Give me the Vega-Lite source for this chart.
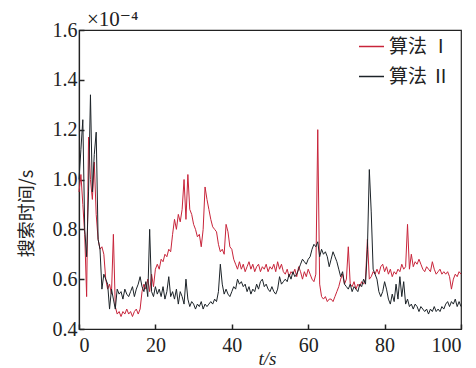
{
  "$schema": "https://vega.github.io/schema/vega-lite/v6.json",
  "width": 382,
  "height": 299,
  "autosize": {"type": "none"},
  "padding": {"left": 79, "top": 30, "right": 15, "bottom": 39},
  "background": "white",
  "config": {
    "view": {"stroke": "#222", "strokeWidth": 1.2},
    "axis": {"grid": false, "domainColor": "#222", "domainWidth": 1.2, "tickColor": "#222", "tickWidth": 1.5, "tickSize": -5, "labelFont": "Times New Roman, Liberation Serif, DejaVu Serif, serif", "labelFontSize": 20, "labelColor": "#222", "titleColor": "#222"}
  },
  "title": {"text": "×10⁻⁴", "anchor": "start", "frame": "group", "font": "Times New Roman, Liberation Serif, DejaVu Serif, serif", "fontSize": 21, "fontWeight": "normal", "color": "#222", "offset": 5, "baseline": "alphabetic", "dx": 8, "dy": 32},
  "data": {"values": [
    {"t":0,"a":0.95,"b":1.00},{"t":0.5,"a":1.02,"b":1.12},{"t":1,"a":0.90,"b":1.24},{"t":1.5,"a":0.78,"b":0.80},{"t":2,"a":0.53,"b":0.69},{"t":2.5,"a":1.17,"b":0.95},{"t":3,"a":1.00,"b":1.34},{"t":3.5,"a":0.92,"b":0.95},{"t":4,"a":1.07,"b":1.10},{"t":4.5,"a":0.86,"b":1.19},
    {"t":5,"a":0.76,"b":0.76},{"t":5.5,"a":0.72,"b":0.72},{"t":6,"a":0.73,"b":0.56},{"t":6.5,"a":0.70,"b":0.62},{"t":7,"a":0.60,"b":0.60},{"t":7.5,"a":0.56,"b":0.58},{"t":8,"a":0.58,"b":0.48},{"t":8.5,"a":0.54,"b":0.56},{"t":9,"a":0.78,"b":0.52},{"t":9.5,"a":0.49,"b":0.48},
    {"t":10,"a":0.46,"b":0.56},{"t":10.5,"a":0.47,"b":0.54},{"t":11,"a":0.45,"b":0.55},{"t":11.5,"a":0.47,"b":0.52},{"t":12,"a":0.46,"b":0.56},{"t":12.5,"a":0.48,"b":0.54},{"t":13,"a":0.46,"b":0.53},{"t":13.5,"a":0.47,"b":0.55},{"t":14,"a":0.45,"b":0.57},{"t":14.5,"a":0.47,"b":0.53},
    {"t":15,"a":0.48,"b":0.56},{"t":15.5,"a":0.46,"b":0.58},{"t":16,"a":0.48,"b":0.61},{"t":16.5,"a":0.55,"b":0.57},{"t":17,"a":0.58,"b":0.55},{"t":17.5,"a":0.56,"b":0.59},{"t":18,"a":0.60,"b":0.53},{"t":18.5,"a":0.55,"b":0.80},{"t":19,"a":0.62,"b":0.55},{"t":19.5,"a":0.57,"b":0.53},
    {"t":20,"a":0.64,"b":0.57},{"t":20.5,"a":0.66,"b":0.54},{"t":21,"a":0.64,"b":0.56},{"t":21.5,"a":0.68,"b":0.53},{"t":22,"a":0.67,"b":0.57},{"t":22.5,"a":0.70,"b":0.52},{"t":23,"a":0.69,"b":0.55},{"t":23.5,"a":0.72,"b":0.61},{"t":24,"a":0.71,"b":0.53},{"t":24.5,"a":0.78,"b":0.55},
    {"t":25,"a":0.84,"b":0.52},{"t":25.5,"a":0.80,"b":0.56},{"t":26,"a":0.86,"b":0.50},{"t":26.5,"a":0.83,"b":0.55},{"t":27,"a":0.88,"b":0.53},{"t":27.5,"a":1.00,"b":0.50},{"t":28,"a":0.84,"b":0.60},{"t":28.5,"a":1.02,"b":0.52},{"t":29,"a":0.88,"b":0.49},{"t":29.5,"a":0.86,"b":0.51},
    {"t":30,"a":0.82,"b":0.50},{"t":30.5,"a":0.80,"b":0.48},{"t":31,"a":0.77,"b":0.50},{"t":31.5,"a":0.78,"b":0.49},{"t":32,"a":0.73,"b":0.51},{"t":32.5,"a":0.80,"b":0.48},{"t":33,"a":0.97,"b":0.50},{"t":33.5,"a":0.92,"b":0.49},{"t":34,"a":0.88,"b":0.50},{"t":34.5,"a":0.84,"b":0.51},
    {"t":35,"a":0.81,"b":0.50},{"t":35.5,"a":0.80,"b":0.52},{"t":36,"a":0.79,"b":0.51},{"t":36.5,"a":0.74,"b":0.55},{"t":37,"a":0.71,"b":0.66},{"t":37.5,"a":0.72,"b":0.58},{"t":38,"a":0.70,"b":0.54},{"t":38.5,"a":0.82,"b":0.56},{"t":39,"a":0.79,"b":0.54},{"t":39.5,"a":0.73,"b":0.53},
    {"t":40,"a":0.72,"b":0.55},{"t":40.5,"a":0.68,"b":0.57},{"t":41,"a":0.66,"b":0.56},{"t":41.5,"a":0.64,"b":0.60},{"t":42,"a":0.67,"b":0.58},{"t":42.5,"a":0.64,"b":0.59},{"t":43,"a":0.66,"b":0.57},{"t":43.5,"a":0.63,"b":0.58},{"t":44,"a":0.65,"b":0.55},{"t":44.5,"a":0.67,"b":0.57},
    {"t":45,"a":0.64,"b":0.54},{"t":45.5,"a":0.66,"b":0.56},{"t":46,"a":0.63,"b":0.55},{"t":46.5,"a":0.65,"b":0.58},{"t":47,"a":0.66,"b":0.56},{"t":47.5,"a":0.63,"b":0.59},{"t":48,"a":0.65,"b":0.60},{"t":48.5,"a":0.64,"b":0.57},{"t":49,"a":0.66,"b":0.58},{"t":49.5,"a":0.63,"b":0.56},
    {"t":50,"a":0.65,"b":0.55},{"t":50.5,"a":0.64,"b":0.57},{"t":51,"a":0.66,"b":0.55},{"t":51.5,"a":0.63,"b":0.54},{"t":52,"a":0.67,"b":0.56},{"t":52.5,"a":0.64,"b":0.61},{"t":53,"a":0.66,"b":0.58},{"t":53.5,"a":0.63,"b":0.59},{"t":54,"a":0.62,"b":0.60},{"t":54.5,"a":0.64,"b":0.59},
    {"t":55,"a":0.61,"b":0.62},{"t":55.5,"a":0.63,"b":0.60},{"t":56,"a":0.62,"b":0.63},{"t":56.5,"a":0.64,"b":0.61},{"t":57,"a":0.61,"b":0.62},{"t":57.5,"a":0.65,"b":0.64},{"t":58,"a":0.63,"b":0.66},{"t":58.5,"a":0.60,"b":0.68},{"t":59,"a":0.63,"b":0.67},{"t":59.5,"a":0.61,"b":0.66},
    {"t":60,"a":0.64,"b":0.68},{"t":60.5,"a":0.62,"b":0.69},{"t":61,"a":0.60,"b":0.72},{"t":61.5,"a":0.59,"b":0.74},{"t":62,"a":0.62,"b":0.73},{"t":62.5,"a":1.20,"b":0.75},{"t":63,"a":0.58,"b":0.69},{"t":63.5,"a":0.53,"b":0.72},{"t":64,"a":0.52,"b":0.70},{"t":64.5,"a":0.53,"b":0.71},
    {"t":65,"a":0.51,"b":0.69},{"t":65.5,"a":0.52,"b":0.65},{"t":66,"a":0.52,"b":0.68},{"t":66.5,"a":0.51,"b":0.71},{"t":67,"a":0.53,"b":0.69},{"t":67.5,"a":0.55,"b":0.67},{"t":68,"a":0.57,"b":0.64},{"t":68.5,"a":0.60,"b":0.61},{"t":69,"a":0.62,"b":0.63},{"t":69.5,"a":0.58,"b":0.58},
    {"t":70,"a":0.60,"b":0.57},{"t":70.5,"a":0.73,"b":0.56},{"t":71,"a":0.58,"b":0.58},{"t":71.5,"a":0.57,"b":0.55},{"t":72,"a":0.59,"b":0.57},{"t":72.5,"a":0.56,"b":0.56},{"t":73,"a":0.58,"b":0.55},{"t":73.5,"a":0.57,"b":0.58},{"t":74,"a":0.59,"b":0.57},{"t":74.5,"a":0.58,"b":0.60},
    {"t":75,"a":0.60,"b":0.58},{"t":75.5,"a":0.76,"b":0.72},{"t":76,"a":0.60,"b":1.04},{"t":76.5,"a":0.61,"b":0.87},{"t":77,"a":0.63,"b":0.64},{"t":77.5,"a":0.62,"b":0.62},{"t":78,"a":0.64,"b":0.60},{"t":78.5,"a":0.62,"b":0.55},{"t":79,"a":0.65,"b":0.53},{"t":79.5,"a":0.66,"b":0.55},
    {"t":80,"a":0.63,"b":0.59},{"t":80.5,"a":0.65,"b":0.56},{"t":81,"a":0.62,"b":0.52},{"t":81.5,"a":0.64,"b":0.50},{"t":82,"a":0.61,"b":0.54},{"t":82.5,"a":0.63,"b":0.51},{"t":83,"a":0.62,"b":0.58},{"t":83.5,"a":0.64,"b":0.52},{"t":84,"a":0.63,"b":0.61},{"t":84.5,"a":0.66,"b":0.53},
    {"t":85,"a":0.64,"b":0.59},{"t":85.5,"a":0.65,"b":0.50},{"t":86,"a":0.82,"b":0.52},{"t":86.5,"a":0.64,"b":0.49},{"t":87,"a":0.70,"b":0.50},{"t":87.5,"a":0.65,"b":0.48},{"t":88,"a":0.67,"b":0.50},{"t":88.5,"a":0.66,"b":0.49},{"t":89,"a":0.68,"b":0.47},{"t":89.5,"a":0.66,"b":0.49},
    {"t":90,"a":0.64,"b":0.48},{"t":90.5,"a":0.63,"b":0.47},{"t":91,"a":0.65,"b":0.48},{"t":91.5,"a":0.64,"b":0.46},{"t":92,"a":0.63,"b":0.48},{"t":92.5,"a":0.67,"b":0.47},{"t":93,"a":0.64,"b":0.49},{"t":93.5,"a":0.62,"b":0.47},{"t":94,"a":0.63,"b":0.48},{"t":94.5,"a":0.64,"b":0.47},
    {"t":95,"a":0.62,"b":0.49},{"t":95.5,"a":0.63,"b":0.48},{"t":96,"a":0.62,"b":0.50},{"t":96.5,"a":0.63,"b":0.51},{"t":97,"a":0.61,"b":0.49},{"t":97.5,"a":0.56,"b":0.51},{"t":98,"a":0.60,"b":0.50},{"t":98.5,"a":0.62,"b":0.52},{"t":99,"a":0.61,"b":0.49},{"t":99.5,"a":0.63,"b":0.51},
    {"t":100,"a":0.62,"b":0.49}
  ]},
  "transform": [{"fold": ["a", "b"], "as": ["s", "v"]}],
  "mark": {"type": "line", "strokeWidth": 1, "interpolate": "linear"},
  "encoding": {
    "x": {"field": "t", "type": "quantitative", "scale": {"domain": [0, 100], "nice": false},
      "axis": {"values": [0, 20, 40, 60, 80, 100], "labelPadding": 11, "title": "t/s", "titleFont": "Times New Roman, Liberation Serif, DejaVu Serif, serif", "titleFontSize": 19, "titleFontWeight": "normal", "titleFontStyle": "italic", "titleY": 35, "titleBaseline": "alphabetic", "titleX": 188, "titleAlign": "center"}},
    "y": {"field": "v", "type": "quantitative", "scale": {"domain": [0.4, 1.6], "nice": false, "zero": false},
      "axis": {"values": [0.4, 0.6, 0.8, 1.0, 1.2, 1.4, 1.6], "format": ".1f", "labelPadding": 7, "title": "搜索时间/s", "titleFont": "Noto Sans CJK SC", "titleFontSize": 18, "titleFontWeight": "normal", "titleAngle": -90, "titleX": -52, "titleY": 183, "titleAlign": "center", "titleBaseline": "middle"}},
    "color": {"field": "s", "type": "nominal", "scale": {"domain": ["a", "b"], "range": ["#c8243a", "#1c2328"]},
      "legend": {"title": null, "orient": "none", "legendX": 279, "legendY": 3, "symbolType": "stroke", "symbolSize": 625, "symbolStrokeWidth": 1.5, "labelExpr": "datum.label == 'a' ? '算法 Ⅰ' : '算法 Ⅱ'", "labelFont": "Noto Sans CJK SC", "labelFontSize": 19, "labelColor": "#222", "labelOffset": 4, "rowPadding": 6, "padding": 0}},
    "order": {"field": "t", "type": "quantitative"}
  }
}
